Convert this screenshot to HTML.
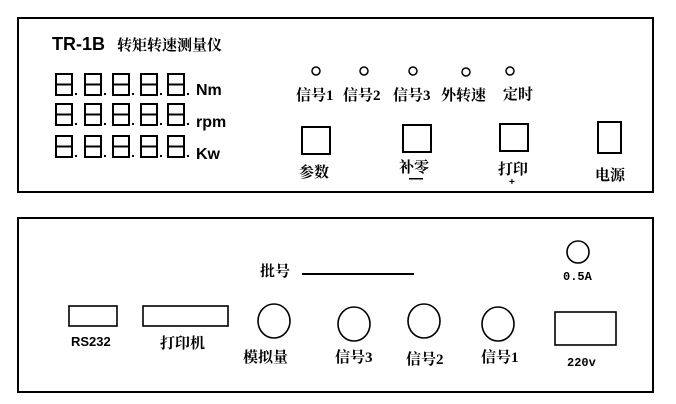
<!DOCTYPE html>
<html><head><meta charset="utf-8"><style>
html,body{margin:0;padding:0;background:#fff;}
svg{display:block;}
.cn{font-family:"Liberation Serif","Noto Serif CJK SC","WenQuanYi Zen Hei",serif;font-size:15px;fill:#000;}
.b{font-family:"Liberation Sans","Noto Sans CJK SC",sans-serif;font-weight:bold;fill:#000;}
.m{font-family:"Liberation Mono",monospace;font-size:12px;font-weight:bold;fill:#000;}
</style></head><body>
<svg width="676" height="404" viewBox="0 0 676 404" xmlns="http://www.w3.org/2000/svg">
<g fill="none" stroke="#000" stroke-width="2">
<rect x="18" y="18" width="635" height="174"/>
<rect x="18" y="218" width="635" height="174"/>
</g>
<text x="52" y="50" class="b" font-size="18">TR-1B</text>
<text x="117" y="50" class="cn" font-size="17" font-weight="bold">转矩转速测量仪</text>
<g fill="none" stroke="#000" stroke-width="2">
<path d="M56 74h16v21h-16z M56 84.5h16"/><path d="M85 74h16v21h-16z M85 84.5h16"/><path d="M113 74h16v21h-16z M113 84.5h16"/><path d="M141 74h16v21h-16z M141 84.5h16"/><path d="M168 74h16v21h-16z M168 84.5h16"/>
<path d="M56 104h16v21h-16z M56 114.5h16"/><path d="M85 104h16v21h-16z M85 114.5h16"/><path d="M113 104h16v21h-16z M113 114.5h16"/><path d="M141 104h16v21h-16z M141 114.5h16"/><path d="M168 104h16v21h-16z M168 114.5h16"/>
<path d="M56 136h16v21h-16z M56 146.5h16"/><path d="M85 136h16v21h-16z M85 146.5h16"/><path d="M113 136h16v21h-16z M113 146.5h16"/><path d="M141 136h16v21h-16z M141 146.5h16"/><path d="M168 136h16v21h-16z M168 146.5h16"/>
</g>
<g fill="#000">
<rect x="75" y="93" width="2" height="2"/><rect x="104" y="93" width="2" height="2"/><rect x="132" y="93" width="2" height="2"/><rect x="160" y="93" width="2" height="2"/><rect x="187" y="93" width="2" height="2"/>
<rect x="75" y="123" width="2" height="2"/><rect x="104" y="123" width="2" height="2"/><rect x="132" y="123" width="2" height="2"/><rect x="160" y="123" width="2" height="2"/><rect x="187" y="123" width="2" height="2"/>
<rect x="75" y="155" width="2" height="2"/><rect x="104" y="155" width="2" height="2"/><rect x="132" y="155" width="2" height="2"/><rect x="160" y="155" width="2" height="2"/><rect x="187" y="155" width="2" height="2"/>
</g>
<text x="196" y="95" class="b" font-size="16">Nm</text>
<text x="196" y="127" class="b" font-size="16">rpm</text>
<text x="196" y="159" class="b" font-size="16">Kw</text>
<g fill="none" stroke="#000" stroke-width="1.5">
<circle cx="316" cy="71" r="4"/><circle cx="364" cy="71" r="4"/><circle cx="413" cy="71" r="4"/><circle cx="466" cy="72" r="4"/><circle cx="510" cy="71" r="4"/>
</g>
<g font-weight="bold">
<text x="296" y="100" class="cn" font-size="16">信号1</text>
<text x="343" y="100" class="cn" font-size="16">信号2</text>
<text x="393" y="100" class="cn" font-size="16">信号3</text>
<text x="441" y="100" class="cn" font-size="16">外转速</text>
<text x="503" y="99" class="cn" font-size="16">定时</text>
</g>
<g fill="none" stroke="#000" stroke-width="2">
<rect x="302" y="127" width="28" height="27"/>
<rect x="403" y="125" width="28" height="27"/>
<rect x="500" y="124" width="28" height="27"/>
<rect x="598" y="122" width="23" height="31"/>
</g>
<text x="299" y="177" class="cn" font-size="16" font-weight="bold">参数</text>
<text x="399" y="172" class="cn" font-size="16" font-weight="bold">补零</text>
<rect x="409" y="178" width="14" height="1.5" fill="#000"/>
<text x="498" y="174" class="cn" font-size="16" font-weight="bold">打印</text>
<text x="509" y="185" class="b" font-size="10">+</text>
<text x="595" y="180" class="cn" font-size="16" font-weight="bold">电源</text>
<circle cx="578" cy="252" r="11" fill="none" stroke="#000" stroke-width="1.6"/>
<text x="563" y="280" class="m">0.5A</text>
<text x="260" y="276" class="cn" font-weight="bold">批号</text>
<rect x="302" y="273" width="112" height="2" fill="#000"/>
<g fill="none" stroke="#000" stroke-width="1.6">
<rect x="69" y="306" width="48" height="20"/>
<rect x="143" y="306" width="85" height="20"/>
<ellipse cx="274" cy="321" rx="16" ry="17"/>
<ellipse cx="354" cy="324" rx="16" ry="17"/>
<ellipse cx="424" cy="321" rx="16" ry="17"/>
<ellipse cx="498" cy="324" rx="16" ry="17"/>
<rect x="555" y="312" width="61" height="33"/>
</g>
<text x="71" y="346" class="b" font-size="13">RS232</text>
<text x="160" y="348" class="cn" font-size="16" font-weight="bold">打印机</text>
<text x="243" y="362" class="cn" font-size="17" font-weight="bold">模拟量</text>
<text x="335" y="362" class="cn" font-size="16" font-weight="bold">信号3</text>
<text x="406" y="364" class="cn" font-size="16" font-weight="bold">信号2</text>
<text x="481" y="362" class="cn" font-size="16" font-weight="bold">信号1</text>
<text x="567" y="366" class="m" font-size="13">220v</text>
</svg>
</body></html>
